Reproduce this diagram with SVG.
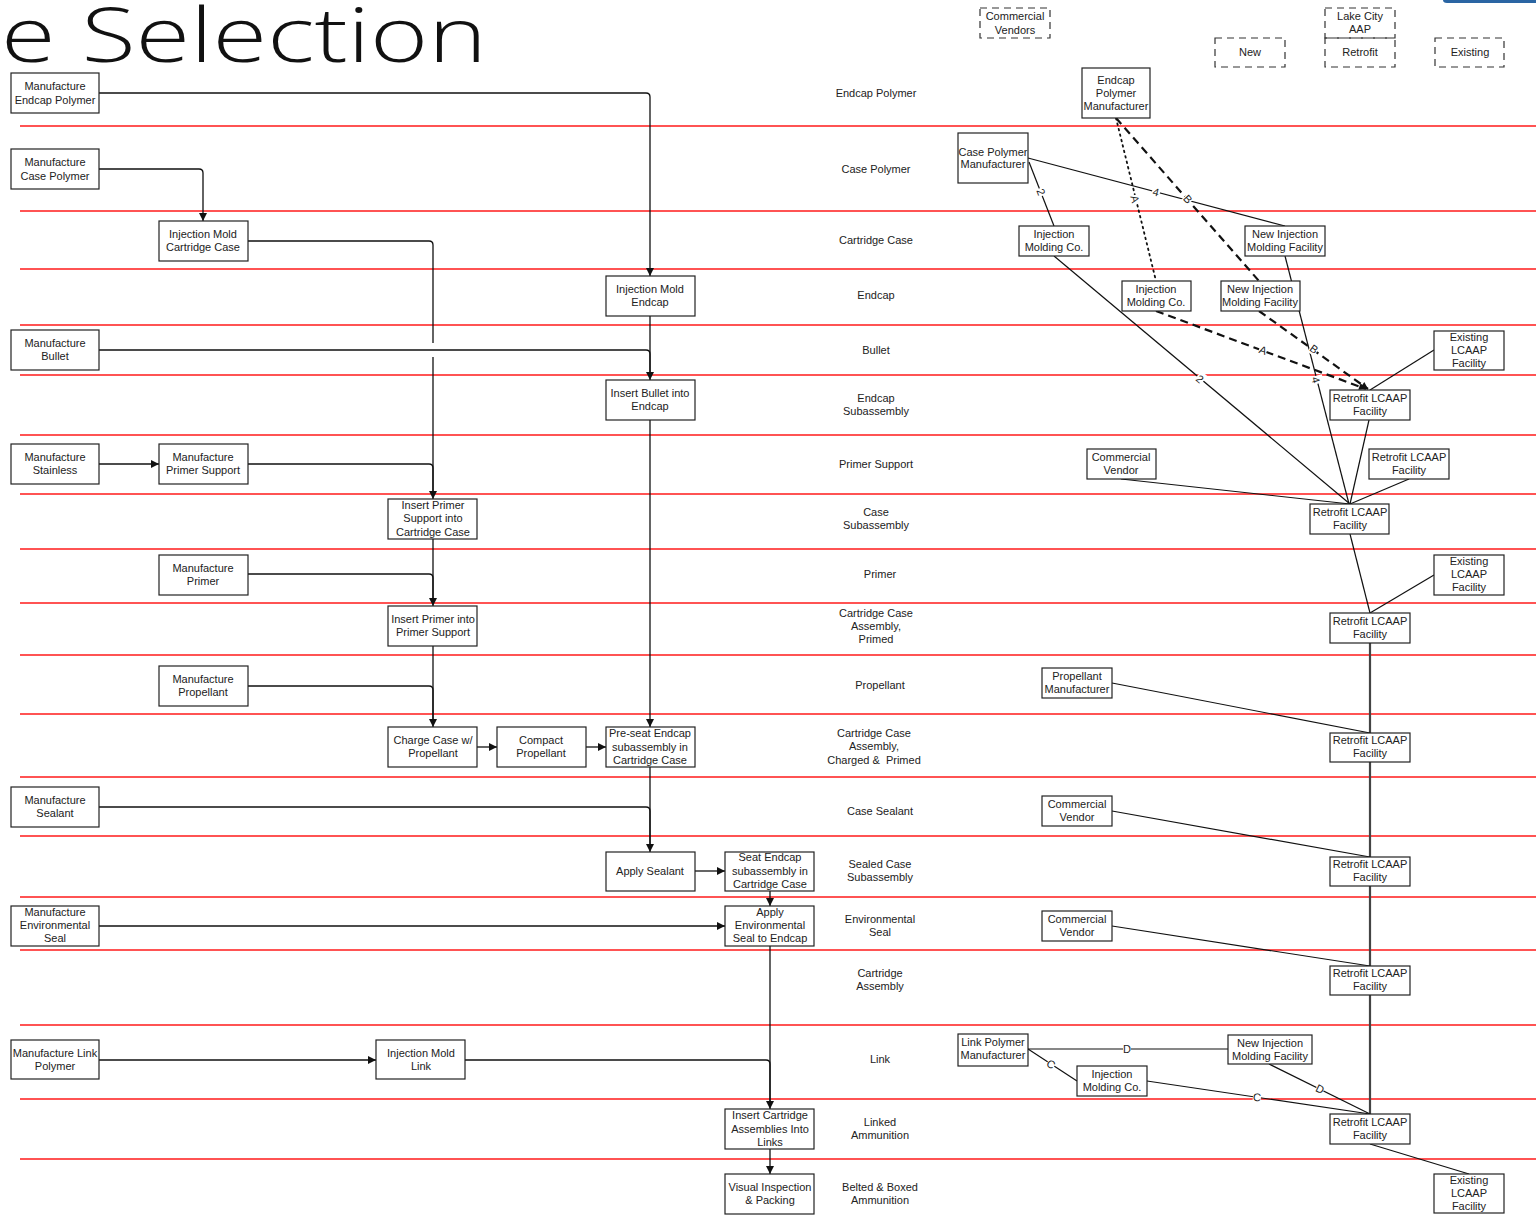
<svg xmlns="http://www.w3.org/2000/svg" width="1536" height="1215" viewBox="0 0 1536 1215">
<style>
.lane{stroke:#ff1a1a;stroke-width:1.6;fill:none}
.box{fill:#fff;stroke:#222;stroke-width:1.2}
.leg{fill:none;stroke:#333;stroke-width:1.2;stroke-dasharray:7 5}
.t{font-family:"Liberation Sans",Arial,sans-serif;font-size:11px;fill:#222;text-anchor:middle}
.cat{font-family:"Liberation Sans",Arial,sans-serif;font-size:11px;fill:#222;text-anchor:middle}
.c{fill:none;stroke:#111;stroke-width:1.3}
.ca{fill:none;stroke:#111;stroke-width:1.3;marker-end:url(#ah)}
.r{fill:none;stroke:#111;stroke-width:1.2}
.dash{fill:none;stroke:#111;stroke-width:2.2;stroke-dasharray:8 5}
.dot{fill:none;stroke:#111;stroke-width:1.8;stroke-dasharray:1.6 4;stroke-linecap:round}
.lbl{font-family:"Liberation Sans",Arial,sans-serif;font-size:11px;fill:#222;text-anchor:middle}
</style>
<defs>
<marker id="ah" viewBox="0 0 10 10" refX="10" refY="5" markerWidth="9" markerHeight="8" markerUnits="userSpaceOnUse" orient="auto">
<path d="M0,0 L10,5 L0,10 Z" fill="#111"/>
</marker>
<marker id="ahd" viewBox="0 0 10 10" refX="10" refY="5" markerWidth="9" markerHeight="7" markerUnits="userSpaceOnUse" orient="auto">
<path d="M0,0 L10,5 L0,10 Z" fill="#111"/>
</marker>
</defs>
<rect width="1536" height="1215" fill="#fff"/>

<!-- title -->
<text x="1" y="62" font-family="'Open Sans','Liberation Sans',sans-serif" font-weight="300" font-size="76" fill="#111" textLength="486" lengthAdjust="spacingAndGlyphs">e Selection</text>
<path d="M1443,0 H1536 V3 H1447 Q1443,3 1443,0 Z" fill="#2a65a3"/>

<!-- lanes -->
<g id="lanes">
<line class="lane" x1="20" y1="126" x2="1536" y2="126"/>
<line class="lane" x1="20" y1="211" x2="1536" y2="211"/>
<line class="lane" x1="20" y1="269" x2="1536" y2="269"/>
<line class="lane" x1="20" y1="325" x2="1536" y2="325"/>
<line class="lane" x1="20" y1="375" x2="1536" y2="375"/>
<line class="lane" x1="20" y1="435" x2="1536" y2="435"/>
<line class="lane" x1="20" y1="494" x2="1536" y2="494"/>
<line class="lane" x1="20" y1="549" x2="1536" y2="549"/>
<line class="lane" x1="20" y1="603" x2="1536" y2="603"/>
<line class="lane" x1="20" y1="655" x2="1536" y2="655"/>
<line class="lane" x1="20" y1="714" x2="1536" y2="714"/>
<line class="lane" x1="20" y1="777" x2="1536" y2="777"/>
<line class="lane" x1="20" y1="836" x2="1536" y2="836"/>
<line class="lane" x1="20" y1="897" x2="1536" y2="897"/>
<line class="lane" x1="20" y1="950" x2="1536" y2="950"/>
<line class="lane" x1="20" y1="1025" x2="1536" y2="1025"/>
<line class="lane" x1="20" y1="1099" x2="1536" y2="1099"/>
<line class="lane" x1="20" y1="1159" x2="1536" y2="1159"/>
</g>

<!-- category labels -->
<g id="categories">
<text class="cat" x="876" y="97">Endcap Polymer</text>
<text class="cat" x="876" y="173">Case Polymer</text>
<text class="cat" x="876" y="244">Cartridge Case</text>
<text class="cat" x="876" y="299">Endcap</text>
<text class="cat" x="876" y="354">Bullet</text>
<text class="cat" x="876" y="402">Endcap</text>
<text class="cat" x="876" y="415">Subassembly</text>
<text class="cat" x="876" y="468">Primer Support</text>
<text class="cat" x="876" y="516">Case</text>
<text class="cat" x="876" y="529">Subassembly</text>
<text class="cat" x="880" y="578">Primer</text>
<text class="cat" x="876" y="617">Cartridge Case</text>
<text class="cat" x="876" y="630">Assembly,</text>
<text class="cat" x="876" y="643">Primed</text>
<text class="cat" x="880" y="689">Propellant</text>
<text class="cat" x="874" y="737">Cartridge Case</text>
<text class="cat" x="874" y="750">Assembly,</text>
<text class="cat" x="874" y="764">Charged &amp;&#160; Primed</text>
<text class="cat" x="880" y="815">Case Sealant</text>
<text class="cat" x="880" y="868">Sealed Case</text>
<text class="cat" x="880" y="881">Subassembly</text>
<text class="cat" x="880" y="923">Environmental</text>
<text class="cat" x="880" y="936">Seal</text>
<text class="cat" x="880" y="977">Cartridge</text>
<text class="cat" x="880" y="990">Assembly</text>
<text class="cat" x="880" y="1063">Link</text>
<text class="cat" x="880" y="1126">Linked</text>
<text class="cat" x="880" y="1139">Ammunition</text>
<text class="cat" x="880" y="1191">Belted &amp; Boxed</text>
<text class="cat" x="880" y="1204">Ammunition</text>
</g>

<!-- connectors -->
<g id="connectors">
<path class="ca" d="M99,93 H646 Q650,93 650,97 V276"/>
<path class="ca" d="M99,169 H199 Q203,169 203,173 V221"/>
<path class="c" d="M248,241 H429 Q433,241 433,245 V343"/>
<path class="ca" d="M433,357 V499"/>
<path class="ca" d="M99,350 H646 Q650,350 650,354 V380"/>
<path class="c" d="M650,316 V376"/>
<path class="ca" d="M99,464 H159"/>
<path class="c" d="M248,464 H429 Q433,464 433,468 V495"/>
<path class="ca" d="M433,539 V606"/>
<path class="c" d="M248,574 H429 Q433,574 433,578 V602"/>
<path class="ca" d="M433,646 V727"/>
<path class="c" d="M248,686 H429 Q433,686 433,690 V723"/>
<path class="ca" d="M477,747 H497"/>
<path class="ca" d="M586,747 H606"/>
<path class="ca" d="M650,420 V727"/>
<path class="ca" d="M650,767 V852"/>
<path class="c" d="M99,807 H646 Q650,807 650,811 V848"/>
<path class="ca" d="M695,871 H725"/>
<path class="ca" d="M770,891 V906"/>
<path class="ca" d="M99,926 H725"/>
<path class="ca" d="M770,946 V1109"/>
<path class="ca" d="M99,1060 H376"/>
<path class="c" d="M465,1060 H766 Q770,1060 770,1064 V1105"/>
<path class="ca" d="M770,1149 V1174"/>

<!-- right side -->
<line x1="1370" y1="643" x2="1370" y2="1114" stroke="#444" stroke-width="2.2"/>
<line class="r" x1="1028" y1="158" x2="1285" y2="226"/>
<line class="r" x1="1029" y1="162" x2="1054" y2="226"/>
<line class="r" x1="1054" y1="256" x2="1350" y2="504"/>
<line class="r" x1="1285" y1="256" x2="1349" y2="504"/>
<path class="dot" d="M1116,118 L1156,281"/>
<path class="dash" d="M1116,118 L1259,281"/>
<path class="dash" d="M1156,311 L1366,389" marker-end="url(#ahd)"/>
<path class="dash" d="M1259,311 L1368,389" marker-end="url(#ahd)"/>
<line class="r" x1="1434" y1="350" x2="1370" y2="390"/>
<line class="r" x1="1369" y1="420" x2="1350" y2="504"/>
<line class="r" x1="1121" y1="479" x2="1350" y2="504"/>
<line class="r" x1="1409" y1="479" x2="1350" y2="504"/>
<line class="r" x1="1350" y1="534" x2="1370" y2="613"/>
<line class="r" x1="1434" y1="575" x2="1370" y2="613"/>
<line class="r" x1="1112" y1="683" x2="1370" y2="733"/>
<line class="r" x1="1112" y1="811" x2="1370" y2="857"/>
<line class="r" x1="1112" y1="926" x2="1370" y2="966"/>
<line class="r" x1="1028" y1="1049" x2="1228" y2="1049"/>
<line class="r" x1="1028" y1="1049" x2="1077" y2="1081"/>
<line class="r" x1="1269" y1="1064" x2="1370" y2="1114"/>
<line class="r" x1="1147" y1="1081" x2="1370" y2="1114"/>
<line class="r" x1="1370" y1="1144" x2="1469" y2="1174"/>

<!-- connector labels -->
<g transform="translate(1156,192) rotate(15)"><rect x="-4" y="-7" width="8" height="13" fill="#fff"/><text class="lbl" y="4">4</text></g>
<g transform="translate(1041,192) rotate(69)"><rect x="-4" y="-7" width="8" height="13" fill="#fff"/><text class="lbl" y="4">2</text></g>
<g transform="translate(1200,379) rotate(40)"><rect x="-4" y="-7" width="8" height="13" fill="#fff"/><text class="lbl" y="4">2</text></g>
<g transform="translate(1316,380) rotate(75)"><rect x="-4" y="-7" width="8" height="13" fill="#fff"/><text class="lbl" y="4">4</text></g>
<g transform="translate(1135,199) rotate(76)"><rect x="-4" y="-7" width="8" height="13" fill="#fff"/><text class="lbl" y="4">A</text></g>
<g transform="translate(1188,199) rotate(48)"><rect x="-4" y="-7" width="8" height="13" fill="#fff"/><text class="lbl" y="4">B</text></g>
<g transform="translate(1263,350) rotate(21)"><rect x="-4" y="-7" width="8" height="13" fill="#fff"/><text class="lbl" y="4">A</text></g>
<g transform="translate(1314,349) rotate(36)"><rect x="-4" y="-7" width="8" height="13" fill="#fff"/><text class="lbl" y="4">B</text></g>
<g transform="translate(1127,1049)"><rect x="-4" y="-7" width="8" height="13" fill="#fff"/><text class="lbl" y="4">D</text></g>
<g transform="translate(1051,1064) rotate(33)"><rect x="-4" y="-7" width="8" height="13" fill="#fff"/><text class="lbl" y="4">C</text></g>
<g transform="translate(1320,1089) rotate(26)"><rect x="-4" y="-7" width="8" height="13" fill="#fff"/><text class="lbl" y="4">D</text></g>
<g transform="translate(1257,1097) rotate(8)"><rect x="-4" y="-7" width="8" height="13" fill="#fff"/><text class="lbl" y="4">C</text></g>
</g>

<!-- legend -->
<g id="legend-commercial"><rect class="leg" x="980" y="8" width="70" height="30"/><text class="t" x="1015" y="20">Commercial</text><text class="t" x="1015" y="34">Vendors</text></g>
<g id="legend-lakecity"><rect class="leg" x="1325" y="8" width="70" height="30"/><text class="t" x="1360" y="20">Lake City</text><text class="t" x="1360" y="33">AAP</text></g>
<g id="legend-new"><rect class="leg" x="1215" y="38" width="70" height="29"/><text class="t" x="1250" y="56">New</text></g>
<g id="legend-retrofit"><rect class="leg" x="1325" y="38" width="70" height="29"/><text class="t" x="1360" y="56">Retrofit</text></g>
<g id="legend-existing"><rect class="leg" x="1435" y="38" width="69" height="29"/><text class="t" x="1470" y="56">Existing</text></g>

<!-- left process nodes -->
<g id="n-mfg-endcap-polymer"><rect class="box" x="11" y="73" width="88" height="40"/><text class="t" x="55" y="90">Manufacture</text><text class="t" x="55" y="104">Endcap Polymer</text></g>
<g id="n-mfg-case-polymer"><rect class="box" x="11" y="149" width="88" height="40"/><text class="t" x="55" y="166">Manufacture</text><text class="t" x="55" y="180">Case Polymer</text></g>
<g id="n-im-cartridge-case"><rect class="box" x="159" y="221" width="89" height="40"/><text class="t" x="203" y="238">Injection Mold</text><text class="t" x="203" y="251">Cartridge Case</text></g>
<g id="n-im-endcap"><rect class="box" x="606" y="276" width="89" height="40"/><text class="t" x="650" y="293">Injection Mold</text><text class="t" x="650" y="306">Endcap</text></g>
<g id="n-mfg-bullet"><rect class="box" x="11" y="330" width="88" height="40"/><text class="t" x="55" y="347">Manufacture</text><text class="t" x="55" y="360">Bullet</text></g>
<g id="n-insert-bullet"><rect class="box" x="606" y="380" width="89" height="40"/><text class="t" x="650" y="397">Insert Bullet into</text><text class="t" x="650" y="410">Endcap</text></g>
<g id="n-mfg-stainless"><rect class="box" x="11" y="444" width="88" height="40"/><text class="t" x="55" y="461">Manufacture</text><text class="t" x="55" y="474">Stainless</text></g>
<g id="n-mfg-primer-support"><rect class="box" x="159" y="444" width="89" height="40"/><text class="t" x="203" y="461">Manufacture</text><text class="t" x="203" y="474">Primer Support</text></g>
<g id="n-insert-primer-support"><rect class="box" x="388" y="499" width="89" height="40"/><text class="t" x="433" y="509">Insert Primer</text><text class="t" x="433" y="522">Support into</text><text class="t" x="433" y="536">Cartridge Case</text></g>
<g id="n-mfg-primer"><rect class="box" x="159" y="555" width="89" height="40"/><text class="t" x="203" y="572">Manufacture</text><text class="t" x="203" y="585">Primer</text></g>
<g id="n-insert-primer"><rect class="box" x="388" y="606" width="89" height="40"/><text class="t" x="433" y="623">Insert Primer into</text><text class="t" x="433" y="636">Primer Support</text></g>
<g id="n-mfg-propellant"><rect class="box" x="159" y="666" width="89" height="40"/><text class="t" x="203" y="683">Manufacture</text><text class="t" x="203" y="696">Propellant</text></g>
<g id="n-charge-case"><rect class="box" x="388" y="727" width="89" height="40"/><text class="t" x="433" y="744">Charge Case w/</text><text class="t" x="433" y="757">Propellant</text></g>
<g id="n-compact"><rect class="box" x="497" y="727" width="89" height="40"/><text class="t" x="541" y="744">Compact</text><text class="t" x="541" y="757">Propellant</text></g>
<g id="n-preseat"><rect class="box" x="606" y="727" width="89" height="40"/><text class="t" x="650" y="737">Pre-seat Endcap</text><text class="t" x="650" y="751">subassembly in</text><text class="t" x="650" y="764">Cartridge Case</text></g>
<g id="n-mfg-sealant"><rect class="box" x="11" y="787" width="88" height="40"/><text class="t" x="55" y="804">Manufacture</text><text class="t" x="55" y="817">Sealant</text></g>
<g id="n-apply-sealant"><rect class="box" x="606" y="852" width="89" height="39"/><text class="t" x="650" y="875">Apply Sealant</text></g>
<g id="n-seat-endcap"><rect class="box" x="725" y="852" width="89" height="39"/><text class="t" x="770" y="861">Seat Endcap</text><text class="t" x="770" y="875">subassembly in</text><text class="t" x="770" y="888">Cartridge Case</text></g>
<g id="n-mfg-env-seal"><rect class="box" x="11" y="906" width="88" height="40"/><text class="t" x="55" y="916">Manufacture</text><text class="t" x="55" y="929">Environmental</text><text class="t" x="55" y="942">Seal</text></g>
<g id="n-apply-env-seal"><rect class="box" x="725" y="906" width="89" height="40"/><text class="t" x="770" y="916">Apply</text><text class="t" x="770" y="929">Environmental</text><text class="t" x="770" y="942">Seal to Endcap</text></g>
<g id="n-mfg-link-polymer"><rect class="box" x="11" y="1040" width="88" height="39"/><text class="t" x="55" y="1057">Manufacture Link</text><text class="t" x="55" y="1070">Polymer</text></g>
<g id="n-im-link"><rect class="box" x="376" y="1040" width="89" height="39"/><text class="t" x="421" y="1057">Injection Mold</text><text class="t" x="421" y="1070">Link</text></g>
<g id="n-insert-cartridge"><rect class="box" x="725" y="1109" width="89" height="40"/><text class="t" x="770" y="1119">Insert Cartridge</text><text class="t" x="770" y="1133">Assemblies Into</text><text class="t" x="770" y="1146">Links</text></g>
<g id="n-visual"><rect class="box" x="725" y="1174" width="89" height="40"/><text class="t" x="770" y="1191">Visual Inspection</text><text class="t" x="770" y="1204">&amp; Packing</text></g>

<!-- right source nodes -->
<g id="s-endcap-polymer-mfr"><rect class="box" x="1082" y="68" width="68" height="50"/><text class="t" x="1116" y="84">Endcap</text><text class="t" x="1116" y="97">Polymer</text><text class="t" x="1116" y="110">Manufacturer</text></g>
<g id="s-case-polymer-mfr"><rect class="box" x="958" y="133" width="70" height="50"/><text class="t" x="993" y="156">Case Polymer</text><text class="t" x="993" y="168">Manufacturer</text></g>
<g id="s-imc-1"><rect class="box" x="1019" y="226" width="70" height="30"/><text class="t" x="1054" y="238">Injection</text><text class="t" x="1054" y="251">Molding Co.</text></g>
<g id="s-nimf-1"><rect class="box" x="1245" y="226" width="80" height="30"/><text class="t" x="1285" y="238">New Injection</text><text class="t" x="1285" y="251">Molding Facility</text></g>
<g id="s-imc-2"><rect class="box" x="1122" y="281" width="69" height="30"/><text class="t" x="1156" y="293">Injection</text><text class="t" x="1156" y="306">Molding Co.</text></g>
<g id="s-nimf-2"><rect class="box" x="1221" y="281" width="79" height="30"/><text class="t" x="1260" y="293">New Injection</text><text class="t" x="1260" y="306">Molding Facility</text></g>
<g id="s-existing-1"><rect class="box" x="1434" y="331" width="70" height="39"/><text class="t" x="1469" y="341">Existing</text><text class="t" x="1469" y="354">LCAAP</text><text class="t" x="1469" y="367">Facility</text></g>
<g id="s-retrofit-1"><rect class="box" x="1330" y="390" width="80" height="30"/><text class="t" x="1370" y="402">Retrofit LCAAP</text><text class="t" x="1370" y="415">Facility</text></g>
<g id="s-cv-1"><rect class="box" x="1087" y="449" width="69" height="30"/><text class="t" x="1121" y="461">Commercial</text><text class="t" x="1121" y="474">Vendor</text></g>
<g id="s-retrofit-2"><rect class="box" x="1369" y="449" width="80" height="30"/><text class="t" x="1409" y="461">Retrofit LCAAP</text><text class="t" x="1409" y="474">Facility</text></g>
<g id="s-retrofit-3"><rect class="box" x="1310" y="504" width="79" height="30"/><text class="t" x="1350" y="516">Retrofit LCAAP</text><text class="t" x="1350" y="529">Facility</text></g>
<g id="s-existing-2"><rect class="box" x="1434" y="555" width="70" height="40"/><text class="t" x="1469" y="565">Existing</text><text class="t" x="1469" y="578">LCAAP</text><text class="t" x="1469" y="591">Facility</text></g>
<g id="s-retrofit-4"><rect class="box" x="1330" y="613" width="80" height="30"/><text class="t" x="1370" y="625">Retrofit LCAAP</text><text class="t" x="1370" y="638">Facility</text></g>
<g id="s-propellant-mfr"><rect class="box" x="1042" y="668" width="70" height="30"/><text class="t" x="1077" y="680">Propellant</text><text class="t" x="1077" y="693">Manufacturer</text></g>
<g id="s-retrofit-5"><rect class="box" x="1330" y="733" width="80" height="29"/><text class="t" x="1370" y="744">Retrofit LCAAP</text><text class="t" x="1370" y="757">Facility</text></g>
<g id="s-cv-2"><rect class="box" x="1042" y="796" width="70" height="30"/><text class="t" x="1077" y="808">Commercial</text><text class="t" x="1077" y="821">Vendor</text></g>
<g id="s-retrofit-6"><rect class="box" x="1330" y="857" width="80" height="29"/><text class="t" x="1370" y="868">Retrofit LCAAP</text><text class="t" x="1370" y="881">Facility</text></g>
<g id="s-cv-3"><rect class="box" x="1042" y="911" width="70" height="30"/><text class="t" x="1077" y="923">Commercial</text><text class="t" x="1077" y="936">Vendor</text></g>
<g id="s-retrofit-7"><rect class="box" x="1330" y="966" width="80" height="29"/><text class="t" x="1370" y="977">Retrofit LCAAP</text><text class="t" x="1370" y="990">Facility</text></g>
<g id="s-link-polymer-mfr"><rect class="box" x="958" y="1034" width="70" height="32"/><text class="t" x="993" y="1046">Link Polymer</text><text class="t" x="993" y="1059">Manufacturer</text></g>
<g id="s-nimf-3"><rect class="box" x="1228" y="1035" width="84" height="29"/><text class="t" x="1270" y="1047">New Injection</text><text class="t" x="1270" y="1060">Molding Facility</text></g>
<g id="s-imc-3"><rect class="box" x="1077" y="1066" width="70" height="30"/><text class="t" x="1112" y="1078">Injection</text><text class="t" x="1112" y="1091">Molding Co.</text></g>
<g id="s-retrofit-8"><rect class="box" x="1330" y="1114" width="80" height="30"/><text class="t" x="1370" y="1126">Retrofit LCAAP</text><text class="t" x="1370" y="1139">Facility</text></g>
<g id="s-existing-3"><rect class="box" x="1434" y="1174" width="70" height="39"/><text class="t" x="1469" y="1184">Existing</text><text class="t" x="1469" y="1197">LCAAP</text><text class="t" x="1469" y="1210">Facility</text></g>
</svg>
